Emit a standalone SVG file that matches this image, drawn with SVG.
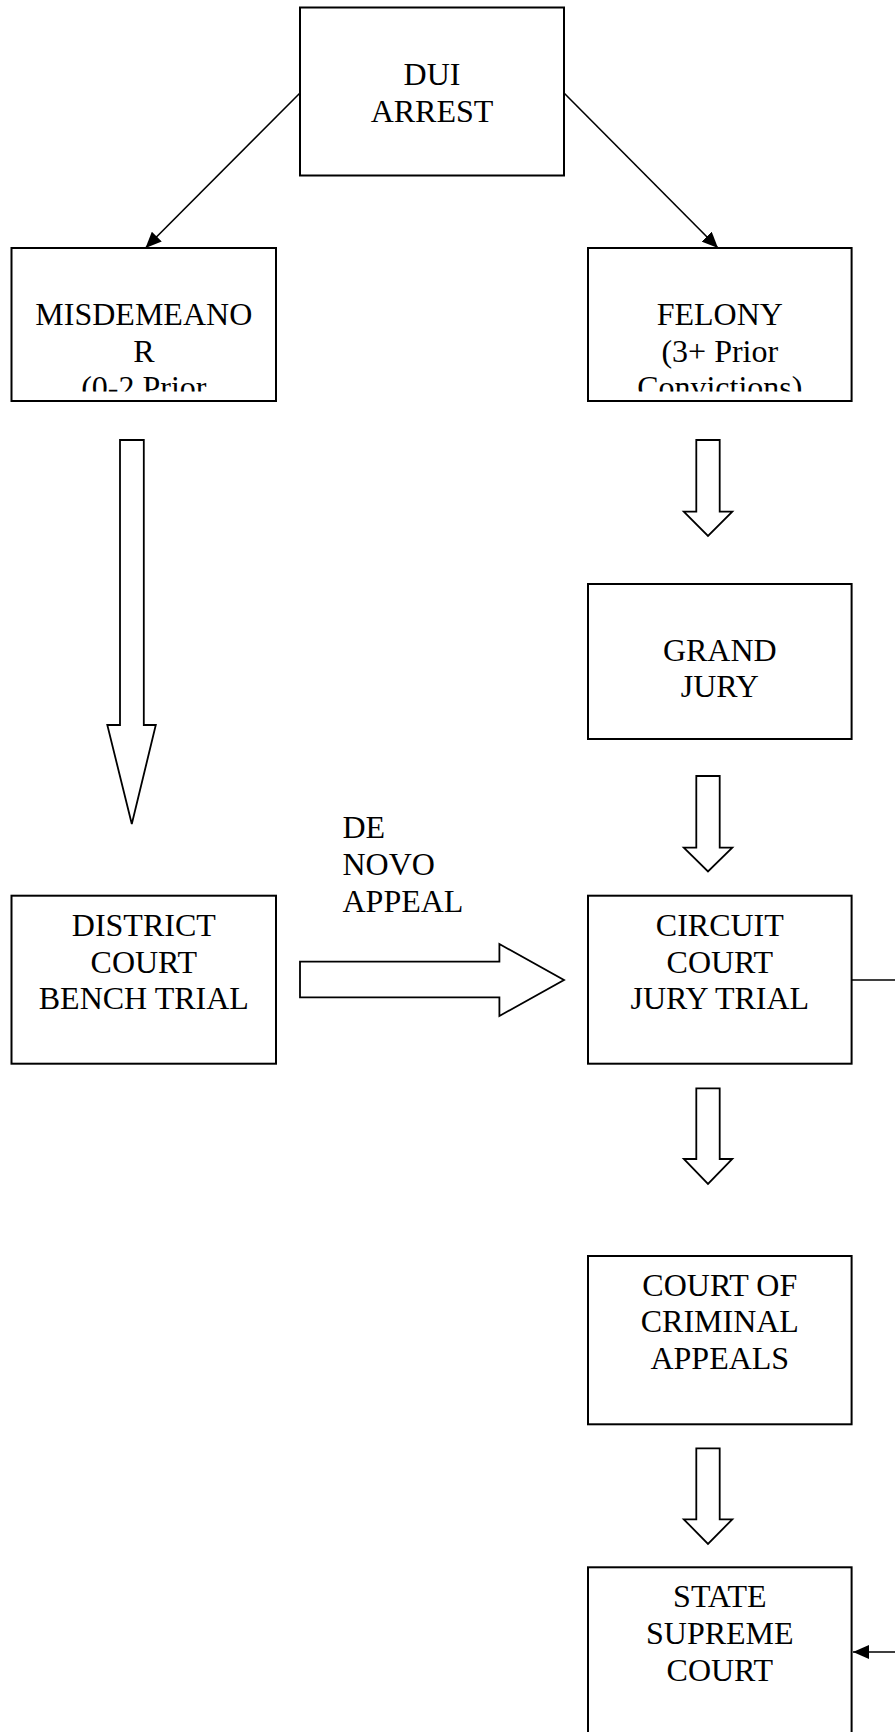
<svg xmlns="http://www.w3.org/2000/svg" width="895" height="1732" viewBox="0 0 895 1732">
<style>
.box{fill:#fff;stroke:#000;stroke-width:2}
.t{font-family:"Liberation Serif","Times New Roman",serif;font-size:32px;fill:#000;text-anchor:middle}
.lbl{font-family:"Liberation Serif","Times New Roman",serif;font-size:32px;fill:#000}
.ln{fill:none;stroke:#000;stroke-width:1.6}
.blk{fill:#fff;stroke:#000;stroke-width:1.8;stroke-linejoin:miter}
</style>
<defs>
<marker id="ah" viewBox="0 0 16 14" refX="16" refY="7" markerWidth="16" markerHeight="14" markerUnits="userSpaceOnUse" orient="auto">
<path d="M0,0 L16,7 L0,14 Z" fill="#000"/>
</marker>
<clipPath id="c1"><rect x="12" y="249" width="263" height="142.5"/></clipPath>
<clipPath id="c2"><rect x="589" y="249" width="262" height="142.5"/></clipPath>
</defs>
<rect width="895" height="1732" fill="#fff"/>
<g id="connectors">
<line class="ln" x1="300" y1="93" x2="145.5" y2="248" marker-end="url(#ah)"/>
<line class="ln" x1="564" y1="93" x2="718" y2="248" marker-end="url(#ah)"/>
<path class="ln" d="M852,980 H905 V1652 H853" marker-end="url(#ah)"/>
<path class="blk" d="M120,440 H143.8 V725 H155.8 L131.8,824 L107.3,725 H120 Z"/>
<path class="blk" d="M696.3,440 H719.7 V511.7 H732.3 L708,536 L683.8,511.7 H696.3 Z"/>
<path class="blk" d="M696.3,776 H719.7 V847.7 H732.3 L708,871.5 L683.8,847.7 H696.3 Z"/>
<path class="blk" d="M696.3,1088.3 H719.7 V1159 H732.3 L708,1184 L683.8,1159 H696.3 Z"/>
<path class="blk" d="M696.3,1448.3 H719.7 V1519.3 H732.3 L708,1544 L683.8,1519.3 H696.3 Z"/>
<path class="blk" d="M300,961.7 H499.4 V944 L564,980 L499.4,1016 V997.3 H300 Z"/>
<text class="lbl" x="342.5" y="838.3">DE</text>
<text class="lbl" x="342.5" y="875">NOVO</text>
<text class="lbl" x="342.5" y="911.7">APPEAL</text>
</g>
<g id="dui">
<rect class="box" x="300" y="7.5" width="264" height="168"/>
<text class="t" x="432" y="85">DUI</text>
<text class="t" x="432" y="121.7">ARREST</text>
</g>
<g id="misdemeanor">
<rect class="box" x="11.5" y="248" width="264.5" height="153"/>
<g clip-path="url(#c1)">
<text class="t" x="143.8" y="325">MISDEMEANO</text>
<text class="t" x="143.8" y="361.7">R</text>
<text class="t" x="143.8" y="398.4">(0-2 Prior</text>
</g>
</g>
<g id="felony">
<rect class="box" x="588" y="248" width="263.6" height="153"/>
<g clip-path="url(#c2)">
<text class="t" x="719.8" y="325">FELONY</text>
<text class="t" x="719.8" y="361.7">(3+ Prior</text>
<text class="t" x="719.8" y="398.4">Convictions)</text>
</g>
</g>
<g id="grandjury">
<rect class="box" x="588" y="584" width="263.6" height="155"/>
<text class="t" x="719.8" y="660.7">GRAND</text>
<text class="t" x="719.8" y="697.3">JURY</text>
</g>
<g id="district">
<rect class="box" x="11.5" y="895.7" width="264.5" height="168"/>
<text class="t" x="143.8" y="936">DISTRICT</text>
<text class="t" x="143.8" y="972.7">COURT</text>
<text class="t" x="143.8" y="1009.4">BENCH TRIAL</text>
</g>
<g id="circuit">
<rect class="box" x="588" y="895.7" width="263.6" height="168"/>
<text class="t" x="719.8" y="936">CIRCUIT</text>
<text class="t" x="719.8" y="972.7">COURT</text>
<text class="t" x="719.8" y="1009.4">JURY TRIAL</text>
</g>
<g id="appeals">
<rect class="box" x="588" y="1256" width="263.6" height="168.3"/>
<text class="t" x="719.8" y="1295.6">COURT OF</text>
<text class="t" x="719.8" y="1332.3">CRIMINAL</text>
<text class="t" x="719.8" y="1369">APPEALS</text>
</g>
<g id="supreme">
<rect class="box" x="588" y="1567.3" width="263.6" height="200"/>
<text class="t" x="719.8" y="1607.3">STATE</text>
<text class="t" x="719.8" y="1644">SUPREME</text>
<text class="t" x="719.8" y="1680.7">COURT</text>
</g>
</svg>
